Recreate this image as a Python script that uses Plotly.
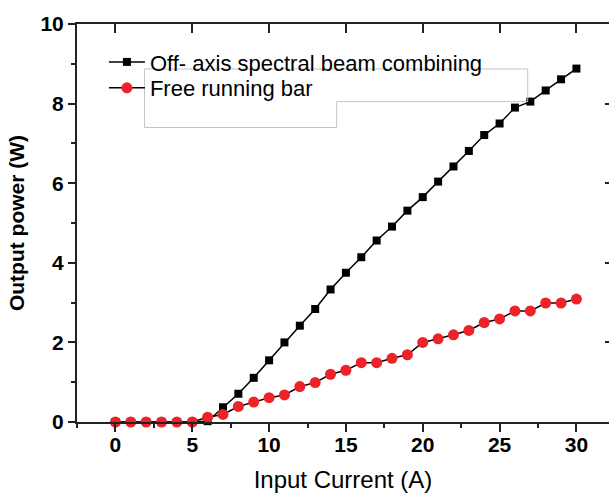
import plotly.graph_objects as go

# Input current (A)
current = list(range(0, 31))

# Output power (W), off-axis spectral beam combining
power_sbc = [0.0, 0.0, 0.0, 0.0, 0.0, 0.0, 0.02, 0.37, 0.71, 1.11, 1.55,
             2.00, 2.42, 2.84, 3.33, 3.75, 4.14, 4.56, 4.91, 5.31, 5.65,
             6.04, 6.42, 6.81, 7.21, 7.50, 7.90, 8.05, 8.33, 8.61, 8.88]

# Output power (W), free running bar
power_free = [0.0, 0.0, 0.0, 0.0, 0.0, 0.0, 0.12, 0.19, 0.39, 0.50, 0.61,
              0.68, 0.89, 0.99, 1.20, 1.30, 1.49, 1.49, 1.60, 1.69, 2.00,
              2.09, 2.19, 2.30, 2.50, 2.59, 2.79, 2.79, 2.99, 2.99, 3.09]

series_names = ["Off- axis spectral beam combining", "Free running bar"]

FONT = "Liberation Sans, Arial, sans-serif"
AXIS_COLOR = "#222222"
RED = "#ee2229"

X_RANGE = [-2.5, 32.12]
Y_RANGE = [0, 10]

fig = go.Figure()

fig.add_trace(go.Scatter(
    x=current, y=power_sbc, name=series_names[0], mode="lines+markers",
    line=dict(color="black", width=1.5),
    marker=dict(symbol="square", size=8, color="black"),
    cliponaxis=False, legend="legend",
))
fig.add_trace(go.Scatter(
    x=current, y=power_free, name=series_names[1], mode="lines+markers",
    line=dict(color="black", width=1.5),
    marker=dict(symbol="circle", size=11, color=RED),
    cliponaxis=False, legend="legend2",
))
# empty trace so the top/right tick axes get drawn
fig.add_trace(go.Scatter(x=[], y=[], xaxis="x2", yaxis="y2",
                         showlegend=False, hoverinfo="skip"))

# leftover legend frame outline
fig.add_shape(
    type="path", xref="x", yref="y", layer="above",
    path="M 1.89,8.87 L 26.83,8.87 L 26.83,8.05 L 14.40,8.05 "
         "L 14.40,7.40 L 1.89,7.40 Z",
    line=dict(color="#c4c4c4", width=1),
)

legend_style = dict(
    xanchor="left", yanchor="top",
    bgcolor="rgba(0,0,0,0)", borderwidth=0,
    font=dict(family=FONT, size=22, color="black"),
    itemwidth=36,
)

fig.update_layout(
    width=609, height=494,
    margin=dict(l=77, r=0, t=24, b=72),
    paper_bgcolor="white", plot_bgcolor="white",
    font=dict(family=FONT, color="black"),
    showlegend=True,
    legend=dict(x=0.0506, y=0.957, **legend_style),
    legend2=dict(x=0.0506, y=0.892, **legend_style),
    xaxis=dict(
        range=X_RANGE, showgrid=False, zeroline=False,
        showline=True, linecolor=AXIS_COLOR, linewidth=2,
        tickmode="linear", tick0=0, dtick=5,
        ticks="outside", ticklen=8, tickwidth=2, tickcolor=AXIS_COLOR,
        minor=dict(ticks="outside", tick0=0, dtick=2.5, ticklen=4,
                   tickwidth=2, tickcolor=AXIS_COLOR, showgrid=False),
        tickfont=dict(family=FONT, size=21, color="black", weight="bold"),
        ticklabelstandoff=-5,
        title=dict(text="Input Current (A)", standoff=16,
                   font=dict(family=FONT, size=24, color="black")),
    ),
    yaxis=dict(
        range=Y_RANGE, showgrid=False, zeroline=False,
        showline=True, linecolor=AXIS_COLOR, linewidth=2,
        tickmode="linear", tick0=0, dtick=2,
        ticks="outside", ticklen=7, tickwidth=2, tickcolor=AXIS_COLOR,
        minor=dict(ticks="outside", tick0=0, dtick=1, ticklen=4,
                   tickwidth=2, tickcolor=AXIS_COLOR, showgrid=False),
        tickfont=dict(family=FONT, size=21, color="black", weight="bold"),
        title=dict(text="Output power (W)", standoff=10,
                   font=dict(family=FONT, size=21, color="black",
                             weight="bold")),
    ),
    xaxis2=dict(
        range=X_RANGE, overlaying="x", side="top", anchor="y2",
        showgrid=False, zeroline=False,
        showline=True, linecolor=AXIS_COLOR, linewidth=2,
        tickmode="linear", tick0=0, dtick=5,
        ticks="inside", ticklen=9, tickwidth=2, tickcolor=AXIS_COLOR,
        showticklabels=False,
    ),
    yaxis2=dict(
        range=Y_RANGE, overlaying="y", side="right", anchor="x2",
        showgrid=False, zeroline=False, showline=False,
        tickmode="linear", tick0=0, dtick=2,
        ticks="inside", ticklen=4, tickwidth=2, tickcolor=AXIS_COLOR,
        showticklabels=False,
    ),
)

fig.write_html("out.html")
